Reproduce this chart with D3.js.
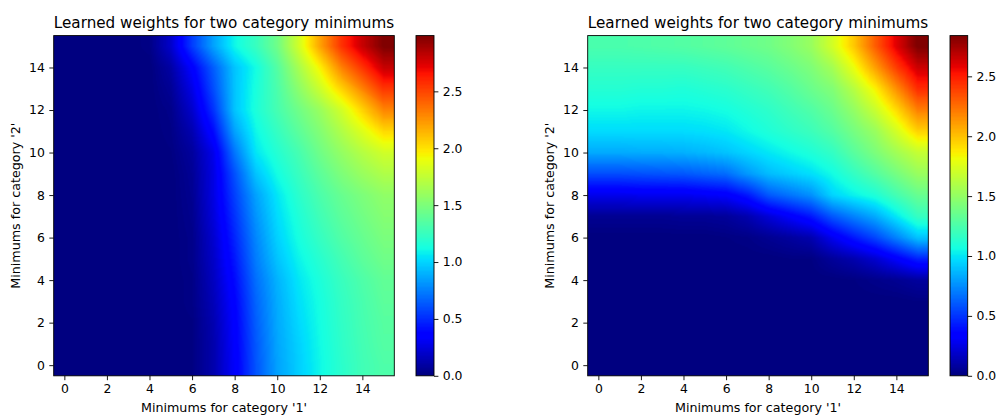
<!DOCTYPE html>
<html><head><meta charset="utf-8">
<script src="https://cdn.jsdelivr.net/npm/d3@7"></script>
<style>
html,body{margin:0;padding:0;background:#fff;}
svg text{font-family:"DejaVu Sans",sans-serif;fill:#000;}
</style></head><body>
<svg id="chart" width="997" height="415"></svg>
<script>
// Category values (grid indices)
const categories1 = [0,1,2,3,4,5,6,7,8,9,10,11,12,13,14,15];
const categories2 = [0,1,2,3,4,5,6,7,8,9,10,11,12,13,14,15];

// Left heatmap: rows = category '2' minimum (0..15), columns = category '1' minimum (0..15)
const weightsLeft = [
  [0,0,0,0,0,0,0.01,0.12,0.33,0.62,0.85,0.98,1.10,1.20,1.28,1.33],
  [0,0,0,0,0,0,0.01,0.12,0.34,0.63,0.86,0.99,1.11,1.21,1.29,1.35],
  [0,0,0,0,0,0,0.01,0.13,0.35,0.65,0.87,1.01,1.12,1.22,1.30,1.36],
  [0,0,0,0,0,0,0.02,0.15,0.37,0.67,0.88,1.03,1.13,1.23,1.31,1.38],
  [0,0,0,0,0,0,0.02,0.17,0.40,0.70,0.90,1.05,1.15,1.25,1.33,1.40],
  [0,0,0,0,0,0,0.03,0.19,0.44,0.74,0.95,1.09,1.19,1.29,1.38,1.45],
  [0,0,0,0,0,0,0.03,0.21,0.48,0.77,0.99,1.13,1.24,1.34,1.42,1.49],
  [0,0,0,0,0,0,0.04,0.24,0.52,0.81,1.02,1.16,1.28,1.38,1.46,1.53],
  [0,0,0,0,0,0,0.05,0.26,0.56,0.85,1.05,1.20,1.32,1.42,1.50,1.57],
  [0,0,0,0,0,0,0.06,0.26,0.61,0.95,1.12,1.25,1.38,1.50,1.60,1.68],
  [0,0,0,0,0,0.01,0.08,0.28,0.72,1.05,1.18,1.30,1.45,1.58,1.70,1.80],
  [0,0,0,0,0,0.02,0.13,0.40,0.85,1.10,1.24,1.38,1.52,1.68,1.85,2.03],
  [0,0,0,0,0,0.03,0.20,0.52,0.95,1.15,1.30,1.45,1.60,1.80,2.05,2.30],
  [0,0,0,0,0,0.06,0.27,0.60,0.95,1.14,1.32,1.55,1.78,2.05,2.30,2.55],
  [0,0,0,0,0,0.10,0.35,0.65,0.95,1.12,1.35,1.65,1.95,2.30,2.55,2.80],
  [0,0,0,0,0.02,0.20,0.55,0.85,1.10,1.25,1.45,1.80,2.20,2.55,2.80,2.99]
];

// Right heatmap: rows = category '2' minimum (0..15), columns = category '1' minimum (0..15)
const weightsRight = [
  [0,0,0,0,0,0,0,0,0,0,0,0,0,0,0,0],
  [0,0,0,0,0,0,0,0,0,0,0,0,0,0,0,0],
  [0,0,0,0,0,0,0,0,0,0,0,0,0,0,0,0],
  [0,0,0,0,0,0,0,0,0,0,0,0,0,0,0,0.01],
  [0,0,0,0,0,0,0,0,0,0,0,0,0.01,0.03,0.05,0.08],
  [0,0,0,0,0,0,0,0,0,0.01,0.01,0.07,0.12,0.20,0.32,0.45],
  [0,0,0,0,0,0,0.01,0.02,0.05,0.08,0.12,0.28,0.42,0.55,0.72,0.90],
  [0.05,0.05,0.05,0.05,0.06,0.06,0.07,0.12,0.22,0.32,0.42,0.60,0.72,0.83,1.00,1.18],
  [0.27,0.27,0.28,0.28,0.28,0.30,0.32,0.42,0.60,0.68,0.76,0.95,1.03,1.10,1.23,1.35],
  [0.57,0.57,0.58,0.59,0.60,0.63,0.66,0.78,0.88,0.93,0.98,1.06,1.17,1.28,1.40,1.52],
  [0.83,0.83,0.84,0.84,0.85,0.87,0.90,0.95,1.00,1.05,1.10,1.17,1.30,1.42,1.55,1.67],
  [0.97,0.97,0.97,0.97,0.97,0.98,1.00,1.05,1.10,1.15,1.20,1.28,1.40,1.52,1.72,1.95],
  [1.05,1.05,1.04,1.04,1.04,1.05,1.07,1.11,1.15,1.21,1.27,1.36,1.50,1.68,1.92,2.20],
  [1.12,1.12,1.11,1.11,1.10,1.12,1.14,1.18,1.22,1.28,1.36,1.44,1.62,1.85,2.15,2.45],
  [1.18,1.18,1.18,1.18,1.18,1.20,1.22,1.26,1.30,1.36,1.43,1.56,1.80,2.10,2.40,2.65],
  [1.25,1.25,1.26,1.27,1.28,1.30,1.32,1.35,1.38,1.44,1.52,1.72,1.98,2.30,2.60,2.84]
];

const axisTicks = [0,2,4,6,8,10,12,14];
const colorbarTicks = [0,0.5,1.0,1.5,2.0,2.5];
const titleText = "Learned weights for two category minimums";
const xLabelText = "Minimums for category '1'";
const yLabelText = "Minimums for category '2'";

// matplotlib "jet" colormap segment data
const jetR = d3.scaleLinear().domain([0,0.35,0.66,0.89,1]).range([0,0,1,1,0.5]).clamp(true);
const jetG = d3.scaleLinear().domain([0,0.125,0.375,0.64,0.91,1]).range([0,0,1,1,0,0]).clamp(true);
const jetB = d3.scaleLinear().domain([0,0.11,0.34,0.65,1]).range([0.5,1,1,0,0]).clamp(true);
function jet(t){
  // quantize to 256 levels as matplotlib does
  const q = Math.min(255, Math.max(0, Math.floor(t*256)))/255;
  return [Math.round(jetR(q)*255), Math.round(jetG(q)*255), Math.round(jetB(q)*255)];
}

const svg = d3.select("#chart");
const TICK = 4.4, PAD = 4.4;
const TICK_FS = 12.4, LABEL_FS = 12.7, TITLE_FS = 15.2;

const panels = [
  {data: weightsLeft,  x0: 53.7,  x1: 394.3, y0: 35.6, y1: 375.8, cb0: 416.0, cb1: 434.0, ylabX: 20},
  {data: weightsRight, x0: 587.7, x1: 928.3, y0: 35.6, y1: 375.8, cb0: 950.0, cb1: 967.7, ylabX: 554}
];

panels.forEach(p => {
  const g = svg.append("g");
  const n1 = categories1.length, n2 = categories2.length;
  const x = d3.scaleLinear().domain([categories1[0]-0.5, categories1[n1-1]+0.5]).range([p.x0, p.x1]);
  const y = d3.scaleLinear().domain([categories2[0]-0.5, categories2[n2-1]+0.5]).range([p.y1, p.y0]);
  const flat = p.data.flat();
  const vmin = d3.min(flat), vmax = d3.max(flat);
  const norm = d3.scaleLinear().domain([vmin, vmax]);

  // Heatmap image: bilinear interpolation of the grid through the scales
  const W = Math.round(p.x1 - p.x0), H = Math.round(p.y1 - p.y0);
  const cv = document.createElement("canvas");
  cv.width = W; cv.height = H;
  const ctx = cv.getContext("2d");
  const img = ctx.createImageData(W, H);
  const ix = d3.scaleLinear().domain([categories1[0], categories1[n1-1]]).range([0, n1-1]).clamp(true);
  const iy = d3.scaleLinear().domain([categories2[0], categories2[n2-1]]).range([0, n2-1]).clamp(true);
  for (let r = 0; r < H; r++) {
    const fy = iy(y.invert(p.y0 + (r + 0.5) * (p.y1 - p.y0) / H));
    const j0 = Math.min(Math.floor(fy), n2-1), j1 = Math.min(j0+1, n2-1), ty = fy - j0;
    for (let c = 0; c < W; c++) {
      const fx = ix(x.invert(p.x0 + (c + 0.5) * (p.x1 - p.x0) / W));
      const i0 = Math.min(Math.floor(fx), n1-1), i1 = Math.min(i0+1, n1-1), tx = fx - i0;
      const v = (1-ty)*((1-tx)*p.data[j0][i0] + tx*p.data[j0][i1]) + ty*((1-tx)*p.data[j1][i0] + tx*p.data[j1][i1]);
      const col = jet(norm(v));
      const k = (r*W + c)*4;
      img.data[k] = col[0]; img.data[k+1] = col[1]; img.data[k+2] = col[2]; img.data[k+3] = 255;
    }
  }
  ctx.putImageData(img, 0, 0);
  g.append("image")
    .attr("x", p.x0).attr("y", p.y0)
    .attr("width", p.x1 - p.x0).attr("height", p.y1 - p.y0)
    .attr("preserveAspectRatio", "none")
    .attr("href", cv.toDataURL());

  // Axes
  const xAxis = d3.axisBottom(x).tickValues(axisTicks).tickSize(TICK).tickPadding(PAD).tickFormat(d3.format("d"));
  const yAxis = d3.axisLeft(y).tickValues(axisTicks).tickSize(TICK).tickPadding(PAD).tickFormat(d3.format("d"));
  const gx = g.append("g").attr("transform", `translate(0,${p.y1})`).call(xAxis);
  const gy = g.append("g").attr("transform", `translate(${p.x0},0)`).call(yAxis);
  [gx, gy].forEach(a => {
    a.select(".domain").remove();
    a.selectAll(".tick line").attr("stroke", "#000").attr("stroke-width", 0.9);
    a.selectAll(".tick text").attr("font-size", TICK_FS).attr("fill", "#000").attr("font-family", "DejaVu Sans");
  });
  g.append("rect").attr("x", p.x0).attr("y", p.y0).attr("width", p.x1 - p.x0).attr("height", p.y1 - p.y0)
    .attr("fill", "none").attr("stroke", "#000").attr("stroke-width", 0.9);

  // Title and labels
  g.append("text").attr("x", (p.x0 + p.x1)/2).attr("y", 28).attr("text-anchor", "middle")
    .attr("font-size", TITLE_FS).text(titleText);
  g.append("text").attr("x", (p.x0 + p.x1)/2).attr("y", 412).attr("text-anchor", "middle")
    .attr("font-size", LABEL_FS).text(xLabelText);
  g.append("text").attr("transform", `translate(${p.ylabX},${(p.y0 + p.y1)/2}) rotate(-90)`)
    .attr("text-anchor", "middle").attr("font-size", LABEL_FS).text(yLabelText);

  // Colorbar
  const cbY = d3.scaleLinear().domain([vmin, vmax]).range([p.y1, p.y0]);
  const CH = Math.round(p.y1 - p.y0);
  const cbc = document.createElement("canvas");
  cbc.width = 1; cbc.height = CH;
  const cctx = cbc.getContext("2d");
  const cimg = cctx.createImageData(1, CH);
  for (let r = 0; r < CH; r++) {
    const v = cbY.invert(p.y0 + (r + 0.5) * (p.y1 - p.y0) / CH);
    const col = jet(norm(v));
    cimg.data[r*4] = col[0]; cimg.data[r*4+1] = col[1]; cimg.data[r*4+2] = col[2]; cimg.data[r*4+3] = 255;
  }
  cctx.putImageData(cimg, 0, 0);
  g.append("image").attr("x", p.cb0).attr("y", p.y0)
    .attr("width", p.cb1 - p.cb0).attr("height", p.y1 - p.y0)
    .attr("preserveAspectRatio", "none").attr("href", cbc.toDataURL());
  const cAxis = d3.axisRight(cbY).tickValues(colorbarTicks).tickSize(TICK).tickPadding(PAD).tickFormat(d3.format(".1f"));
  const gc = g.append("g").attr("transform", `translate(${p.cb1},0)`).call(cAxis);
  gc.select(".domain").remove();
  gc.selectAll(".tick line").attr("stroke", "#000").attr("stroke-width", 0.9);
  gc.selectAll(".tick text").attr("font-size", TICK_FS).attr("fill", "#000").attr("font-family", "DejaVu Sans");
  g.append("rect").attr("x", p.cb0).attr("y", p.y0).attr("width", p.cb1 - p.cb0).attr("height", p.y1 - p.y0)
    .attr("fill", "none").attr("stroke", "#000").attr("stroke-width", 0.9);
});
</script>
</body></html>
